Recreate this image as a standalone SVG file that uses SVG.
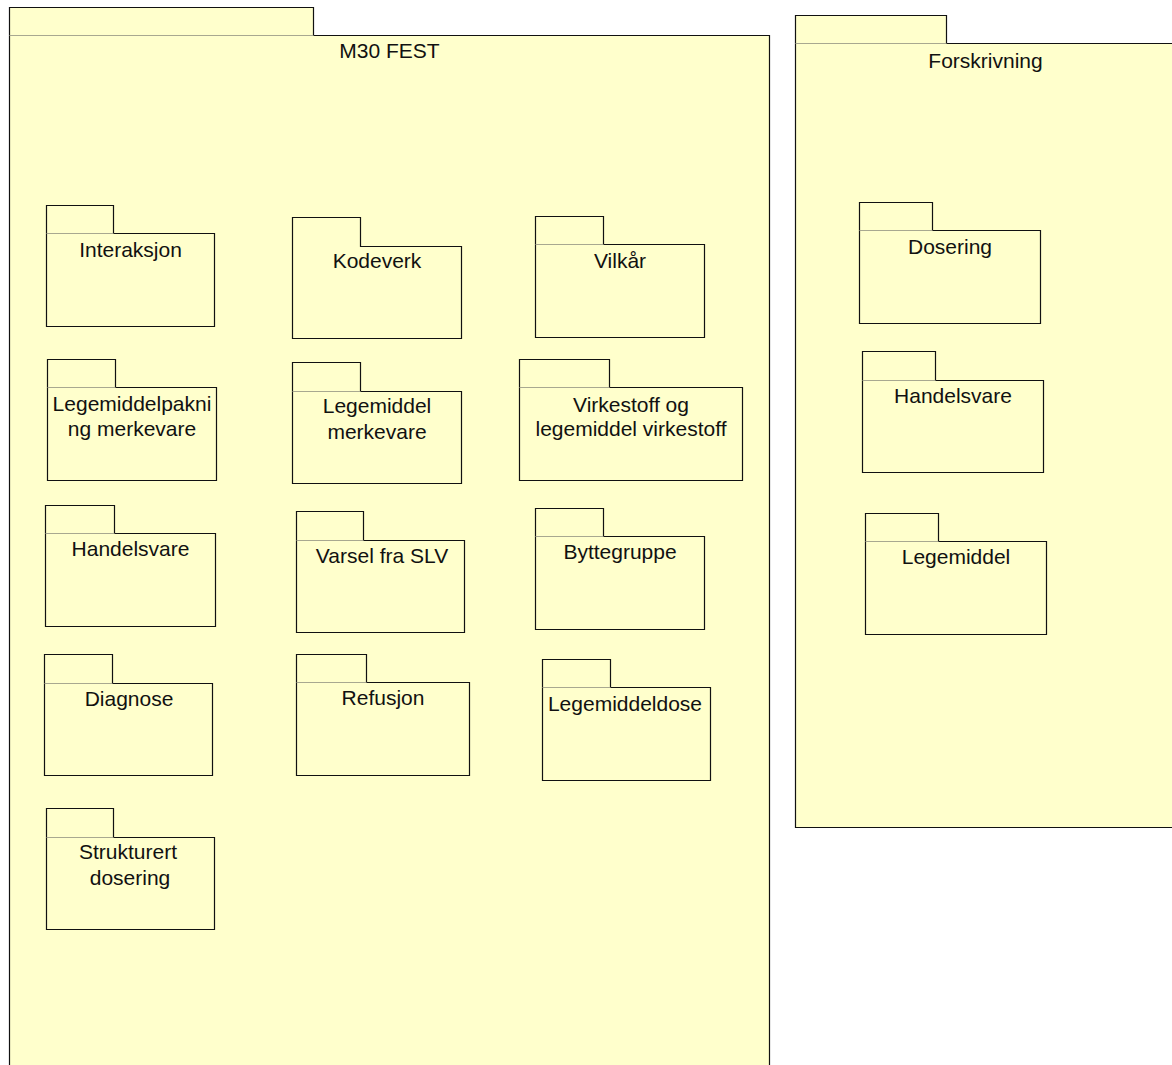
<svg xmlns="http://www.w3.org/2000/svg" width="1172" height="1065" viewBox="0 0 1172 1065">
<style>
.pkg{fill:#FFFFCC;stroke:#111;stroke-width:1.2}
.sep{stroke:#A8A890;stroke-width:1}
.lbl{font-family:"Liberation Sans",Arial,sans-serif;font-size:21px;fill:#111;text-anchor:middle}
</style>
<rect width="1172" height="1065" fill="#fff"/>
<g id="pkg-m30-fest">
<path class="pkg" d="M9.5,7.5 H313.5 V35.5 H769.5 V1070 H9.5 Z"/>
<line class="sep" x1="9.5" y1="35.5" x2="313.5" y2="35.5"/>
<text class="lbl" x="389.5" y="58">M30 FEST</text>
</g>
<g id="pkg-forskrivning">
<path class="pkg" d="M795.5,15.5 H946.5 V43.5 H1176 V827.5 H795.5 Z"/>
<line class="sep" x1="795.5" y1="43.5" x2="946.5" y2="43.5"/>
<text class="lbl" x="985.5" y="68">Forskrivning</text>
</g>
<g id="pkg-interaksjon">
<path class="pkg" d="M46.5,205.5 H113.5 V233.5 H214.5 V326.5 H46.5 Z"/>
<line class="sep" x1="46.5" y1="233.5" x2="113.5" y2="233.5"/>
<text class="lbl" x="130.5" y="257">Interaksjon</text>
</g>
<g id="pkg-kodeverk">
<path class="pkg" d="M292.5,217.5 H360.5 V246.5 H461.5 V338.5 H292.5 Z"/>
<text class="lbl" x="377" y="268">Kodeverk</text>
</g>
<g id="pkg-vilkar">
<path class="pkg" d="M535.5,216.5 H603.5 V244.5 H704.5 V337.5 H535.5 Z"/>
<line class="sep" x1="535.5" y1="244.5" x2="603.5" y2="244.5"/>
<text class="lbl" x="620" y="268">Vilkår</text>
</g>
<g id="pkg-legemiddelpakning">
<path class="pkg" d="M47.5,359.5 H115.5 V387.5 H216.5 V480.5 H47.5 Z"/>
<line class="sep" x1="47.5" y1="387.5" x2="115.5" y2="387.5"/>
<text class="lbl" x="132" y="411">Legemiddelpakni</text>
<text class="lbl" x="132" y="436">ng merkevare</text>
</g>
<g id="pkg-legemiddel-merkevare">
<path class="pkg" d="M292.5,362.5 H360.5 V391.5 H461.5 V483.5 H292.5 Z"/>
<line class="sep" x1="292.5" y1="391.5" x2="360.5" y2="391.5"/>
<text class="lbl" x="377" y="413">Legemiddel</text>
<text class="lbl" x="377" y="439">merkevare</text>
</g>
<g id="pkg-virkestoff">
<path class="pkg" d="M519.5,359.5 H609.5 V387.5 H742.5 V480.5 H519.5 Z"/>
<line class="sep" x1="519.5" y1="387.5" x2="609.5" y2="387.5"/>
<text class="lbl" x="631" y="412">Virkestoff og</text>
<text class="lbl" x="631" y="436">legemiddel virkestoff</text>
</g>
<g id="pkg-handelsvare">
<path class="pkg" d="M45.5,505.5 H114.5 V533.5 H215.5 V626.5 H45.5 Z"/>
<line class="sep" x1="45.5" y1="533.5" x2="114.5" y2="533.5"/>
<text class="lbl" x="130.5" y="556">Handelsvare</text>
</g>
<g id="pkg-varsel-fra-slv">
<path class="pkg" d="M296.5,511.5 H363.5 V540.5 H464.5 V632.5 H296.5 Z"/>
<line class="sep" x1="296.5" y1="540.5" x2="363.5" y2="540.5"/>
<text class="lbl" x="382" y="563">Varsel fra SLV</text>
</g>
<g id="pkg-byttegruppe">
<path class="pkg" d="M535.5,508.5 H603.5 V536.5 H704.5 V629.5 H535.5 Z"/>
<line class="sep" x1="535.5" y1="536.5" x2="603.5" y2="536.5"/>
<text class="lbl" x="620" y="559">Byttegruppe</text>
</g>
<g id="pkg-diagnose">
<path class="pkg" d="M44.5,654.5 H112.5 V683.5 H212.5 V775.5 H44.5 Z"/>
<line class="sep" x1="44.5" y1="683.5" x2="112.5" y2="683.5"/>
<text class="lbl" x="129" y="706">Diagnose</text>
</g>
<g id="pkg-refusjon">
<path class="pkg" d="M296.5,654.5 H366.5 V682.5 H469.5 V775.5 H296.5 Z"/>
<line class="sep" x1="296.5" y1="682.5" x2="366.5" y2="682.5"/>
<text class="lbl" x="383" y="705">Refusjon</text>
</g>
<g id="pkg-legemiddeldose">
<path class="pkg" d="M542.5,659.5 H610.5 V687.5 H710.5 V780.5 H542.5 Z"/>
<line class="sep" x1="542.5" y1="687.5" x2="610.5" y2="687.5"/>
<text class="lbl" x="625" y="711">Legemiddeldose</text>
</g>
<g id="pkg-strukturert-dosering">
<path class="pkg" d="M46.5,808.5 H113.5 V837.5 H214.5 V929.5 H46.5 Z"/>
<line class="sep" x1="46.5" y1="837.5" x2="113.5" y2="837.5"/>
<text class="lbl" x="128" y="859">Strukturert</text>
<text class="lbl" x="130" y="885">dosering</text>
</g>
<g id="pkg-dosering">
<path class="pkg" d="M859.5,202.5 H932.5 V230.5 H1040.5 V323.5 H859.5 Z"/>
<line class="sep" x1="859.5" y1="230.5" x2="932.5" y2="230.5"/>
<text class="lbl" x="950" y="254">Dosering</text>
</g>
<g id="pkg-forskrivning-handelsvare">
<path class="pkg" d="M862.5,351.5 H935.5 V380.5 H1043.5 V472.5 H862.5 Z"/>
<line class="sep" x1="862.5" y1="380.5" x2="935.5" y2="380.5"/>
<text class="lbl" x="953" y="403">Handelsvare</text>
</g>
<g id="pkg-legemiddel">
<path class="pkg" d="M865.5,513.5 H938.5 V541.5 H1046.5 V634.5 H865.5 Z"/>
<line class="sep" x1="865.5" y1="541.5" x2="938.5" y2="541.5"/>
<text class="lbl" x="956" y="564">Legemiddel</text>
</g>
<g id="connectors"></g>
</svg>
